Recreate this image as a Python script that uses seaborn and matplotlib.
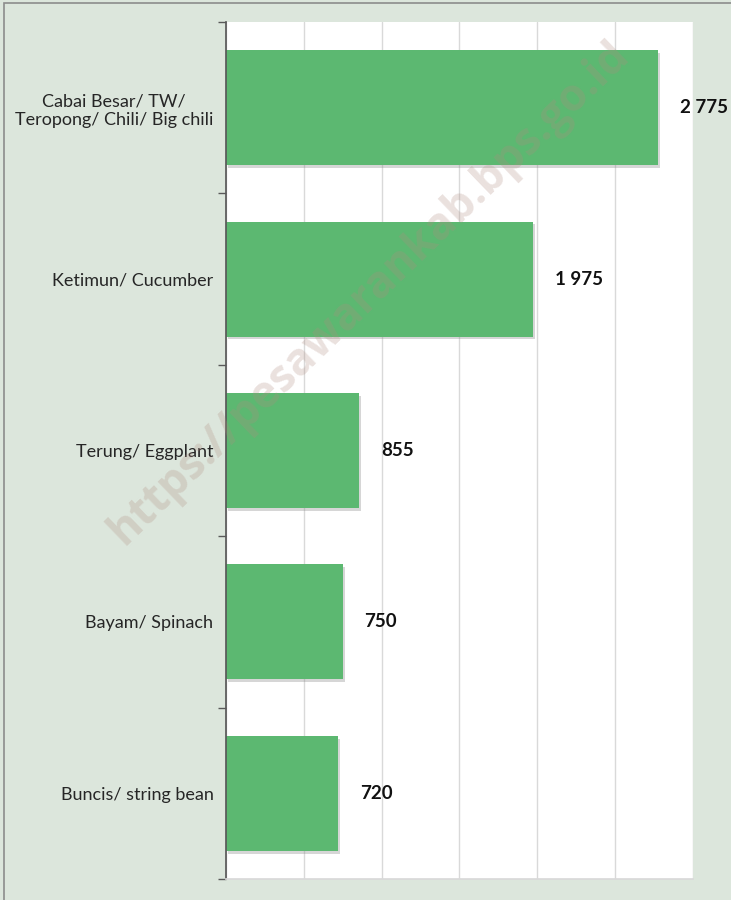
import matplotlib
matplotlib.use("Agg")
import matplotlib.pyplot as plt
import matplotlib.patheffects as pe
import pandas as pd
import seaborn as sns

categories = [
    "Cabai Besar/ TW/\nTeropong/ Chili/ Big chili",
    "Ketimun/ Cucumber",
    "Terung/ Eggplant",
    "Bayam/ Spinach",
    "Buncis/ string bean",
]
values = [2775, 1975, 855, 750, 720]
x_ticks = [0, 500, 1000, 1500, 2000, 2500, 3000]

BG = "#dce6dc"
BAR = "#5cb871"

sns.set_theme(style="white")
plt.rcParams["font.family"] = ["Lato", "DejaVu Sans"]

df = pd.DataFrame({"kategori": categories, "nilai": values})

fig = plt.figure(figsize=(7.31, 9.0), dpi=100, facecolor=BG)
ax = fig.add_axes([0.309, 0.0233, 0.639, 0.9523])
ax.set_facecolor("white")

sns.barplot(data=df, x="nilai", y="kategori", orient="h", color=BAR,
            width=0.67, saturation=1, ax=ax)
for bar in ax.patches:
    bar.set_edgecolor("none")
    bar.set_path_effects([pe.SimplePatchShadow(offset=(1.5, -2), shadow_rgbFace="#8a8a8a", alpha=0.35),
                          pe.Normal()])

# label nilai di ujung batang
for i, v in enumerate(values):
    ax.text(v + 140, i, f"{v:,}".replace(",", " "), va="center", ha="left",
            fontsize=13.5, fontweight="bold", color="#111111")

ax.set_xlim(0, 3000)
ax.set_ylim(4.5, -0.5)
ax.set_xticks(x_ticks)
ax.set_xticklabels([])
ax.xaxis.grid(True, color="#d9d9d9", linewidth=1)
ax.set_axisbelow(True)
ax.set_yticks([i - 0.5 for i in range(6)], minor=True)
ax.tick_params(axis="y", which="minor", length=6, width=1, color="#595959", left=True)
ax.tick_params(axis="y", which="major", length=0, labelsize=13, labelcolor="#262626", pad=9)
ax.tick_params(axis="x", length=0)
ax.set_xlabel("")
ax.set_ylabel("")
for s in ["top", "right"]:
    ax.spines[s].set_visible(False)
ax.spines["bottom"].set_color("#d9d9d9")
ax.spines["left"].set_color("#595959")
for lab in ax.get_yticklabels():
    lab.set_multialignment("center")

# watermark
fig.text(0.505, 0.674, "https://pesawarankab.bps.go.id", rotation=44, ha="center", va="center",
         fontsize=32, fontweight="bold", family=["Open Sans", "DejaVu Sans"],
         color="#b08c80", alpha=0.26, zorder=10)

fig.patches.append(plt.Rectangle((0.0055, -0.1), 1.2, 1.0967, transform=fig.transFigure,
                                 fill=False, edgecolor="#8c8c8c", linewidth=1.2))

fig.savefig("out.png", dpi=100, facecolor=fig.get_facecolor())
